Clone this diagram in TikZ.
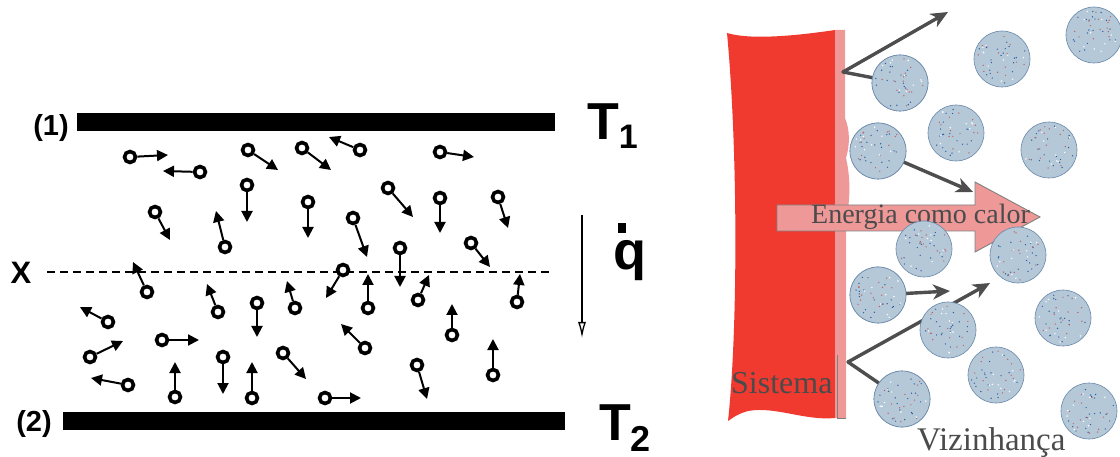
\documentclass[tikz,border=0pt]{standalone}
\usepackage{fontspec}
\setmainfont{Liberation Serif}
\newfontfamily\labelsans{Liberation Sans}
\usetikzlibrary{arrows.meta}

\definecolor{sysred}{RGB}{240,58,48}
\definecolor{wallpink}{RGB}{238,152,152}
\definecolor{gasblue}{RGB}{180,200,216}
\definecolor{gasedge}{RGB}{105,135,170}
\definecolor{darkarrow}{RGB}{78,78,78}
\definecolor{captiongray}{RGB}{75,75,75}
\definecolor{dotblue}{RGB}{40,90,160}
\definecolor{dotred}{RGB}{200,90,90}

\tikzset{
  plate/.style={fill=black, inner sep=0pt, minimum height=18pt},
  mol/.style={circle, draw=black, line width=3.6pt, fill=white, minimum size=11pt, inner sep=0pt,
    path picture={\fill (path picture bounding box.center) ++(1,1) circle (1.8);}},
  molvec/.style={line width=2pt, -{Triangle[length=11pt,width=11pt]}},
  sanslabel/.style={font=\labelsans\bfseries, inner sep=0pt},
  gas/.style={circle, fill=gasblue, draw=gasedge, line width=0.6pt, minimum size=56pt, inner sep=0pt},
  hop/.style={draw=darkarrow, line width=3.4pt, line cap=round, line join=round},
  hoptip/.style={hop, -{Stealth[length=17pt,width=15pt,inset=5pt]}},
  caption/.style={font=\fontsize{32}{32}\selectfont, text=captiongray, inner sep=0pt}
}

\begin{document}
\begin{tikzpicture}[x=1pt, y=-1pt]
\useasboundingbox (0,0) rectangle (1120,457);
\fill[white] (0,0) rectangle (1120,457);

% ---------- conduction between two plates ----------
\node[plate, minimum width=478pt] (p1) at (316,122) {};
\node[plate, minimum width=502pt] (p2) at (314,421) {};
\node[sanslabel, font=\labelsans\bfseries\fontsize{29}{29}\selectfont] (l1) at (51,128) {(1)};
\node[sanslabel, font=\labelsans\bfseries\fontsize{29}{29}\selectfont] (l2) at (34,424) {(2)};
\node[sanslabel, anchor=base west] (t1) at (587,140)
  {\fontsize{52}{52}\selectfont T\raisebox{-9pt}{\fontsize{34}{34}\selectfont 1}};
\node[sanslabel, anchor=base west] (t2) at (599,440)
  {\fontsize{52}{52}\selectfont T\raisebox{-11pt}{\fontsize{36}{36}\selectfont 2}};

% reference plane x
\node[sanslabel, font=\labelsans\bfseries\fontsize{31}{31}\selectfont] (xl) at (21,273) {X};
\coordinate (xa) at (47,272);
\coordinate (xb) at (551,272);
\draw[line width=1.6pt, dash pattern=on 8pt off 5pt] (xa) -- (xb);

% heat flux
\coordinate (qa) at (582,215);
\coordinate (qb) at (582,338);
\draw[line width=1.3pt, -{Latex[open,length=16pt,width=8pt]}] (qa) -- (qb);
\node[sanslabel, anchor=base west, font=\labelsans\bfseries\fontsize{54}{54}\selectfont] (q) at (613,270) {q};
\fill (618,223) rectangle (626,233);

% molecules with their velocities
\foreach \cx/\cy/\tx/\ty [count=\i] in {
  130/157/168/155, 200/172/163/171, 248/150/278/170, 247/185/247/222,
  302/148/331/170, 360/150/329/137, 155/212/170/240, 225/247/216/211,
  308/202/308/238, 440/152/474/157, 388/188/413/217, 440/198/440/233,
  498/197/508/228, 353/218/367/257, 400/248/400/287, 471/243/490/267,
  343/270/326/298, 368/308/368/274, 418/300/429/275, 517/302/520/274,
  452/335/452/304, 147/292/133/262, 218/312/207/284, 257/303/257/337,
  295/308/287/281, 108/322/80/307,  90/357/123/341,  128/385/91/378,
  162/340/199/340, 175/397/175/362, 223/357/223/394, 252/398/252/362,
  283/353/306/379, 325/398/361/398, 365/348/341/324, 417/365/427/399,
  493/375/493/339} {
  \node[mol] (m\i) at (\cx,\cy) {};
  \coordinate (mt\i) at (\tx,\ty);
  \draw[molvec] (m\i) -- (mt\i);
}

% ---------- system, wall and surroundings ----------
\fill[sysred] (727,33) .. controls (750,40) and (795,36) .. (835,30)
  -- (835,418) .. controls (805,421) and (775,406) .. (748,411)
  .. controls (737,414) and (731,419) .. (728,421)
  .. controls (738,330) and (738,150) .. cycle;
\fill[wallpink] (835,30) -- (845,30) -- (845,118)
  .. controls (850,130) and (850,145) .. (846,158)
  .. controls (851,180) and (850,200) .. (846,222)
  -- (846,418) -- (835,418) -- cycle;
\draw[gray, line width=0.8pt] (837,355) -- (837,418) -- (846,418);

\node[caption, anchor=base west] (sys) at (731,393) {Sistema};
\node[caption, anchor=base west, font=\fontsize{33}{33}\selectfont] (viz) at (917,450) {Vizinhança};

% energy transferred as heat
\coordinate (ea) at (777,205);
\filldraw[fill=wallpink, draw=gray, line width=0.9pt]
  (ea) -- (975,205) -- (975,182) -- (1040,217) -- (975,252) -- (975,231) -- (777,231) -- cycle;
\node[caption, anchor=base west, font=\fontsize{28}{28}\selectfont] (heat) at (811,224) {Energia como calor};

% molecule trajectories
\coordinate (w1) at (843,72);
\coordinate (w2) at (848,362);
\coordinate (h1) at (948,12);
\coordinate (h3) at (973,192);
\coordinate (h4) at (950,291);
\coordinate (h5) at (990,283);

\node[gas] (c1) at (900,83) {};
\node[gas] (c5) at (878,151) {};
\node[gas] (c9) at (878,295) {};
\node[gas] (c13) at (902,399) {};
\draw[hop] (c1) -- (w1);
\draw[hoptip] (w1) -- (h1);
\draw[hoptip] (c5) -- (h3);
\draw[hoptip] (c9) -- (h4);
\draw[hoptip] (w2) -- (h5);
\draw[hop] (w2) -- (c13);

% surrounding gas molecules
\foreach \gx/\gy [count=\j] in {900/83, 1002/59, 1094/35, 956/133, 878/151, 1049/150,
  924/249, 1018/255, 878/295, 948/330, 1063/318, 996/375, 902/399, 1089/411} {
  \node[gas] (g\j) at (\gx,\gy) {};
  \pgfmathsetseed{\j7}
  \foreach \k in {1,...,20} {
    \pgfmathsetmacro\ang{rnd*360}
    \pgfmathsetmacro\rad{sqrt(rnd)*25}
    \fill[dotblue] ([shift={(\ang:\rad)}]g\j.center) circle (0.7);
  }
  \foreach \k in {1,...,14} {
    \pgfmathsetmacro\ang{rnd*360}
    \pgfmathsetmacro\rad{sqrt(rnd)*25}
    \fill[dotred] ([shift={(\ang:\rad)}]g\j.center) circle (0.7);
  }
  \foreach \k in {1,...,10} {
    \pgfmathsetmacro\ang{rnd*360}
    \pgfmathsetmacro\rad{sqrt(rnd)*25}
    \fill[white] ([shift={(\ang:\rad)}]g\j.center) circle (0.8);
  }
}
\end{tikzpicture}
\end{document}
